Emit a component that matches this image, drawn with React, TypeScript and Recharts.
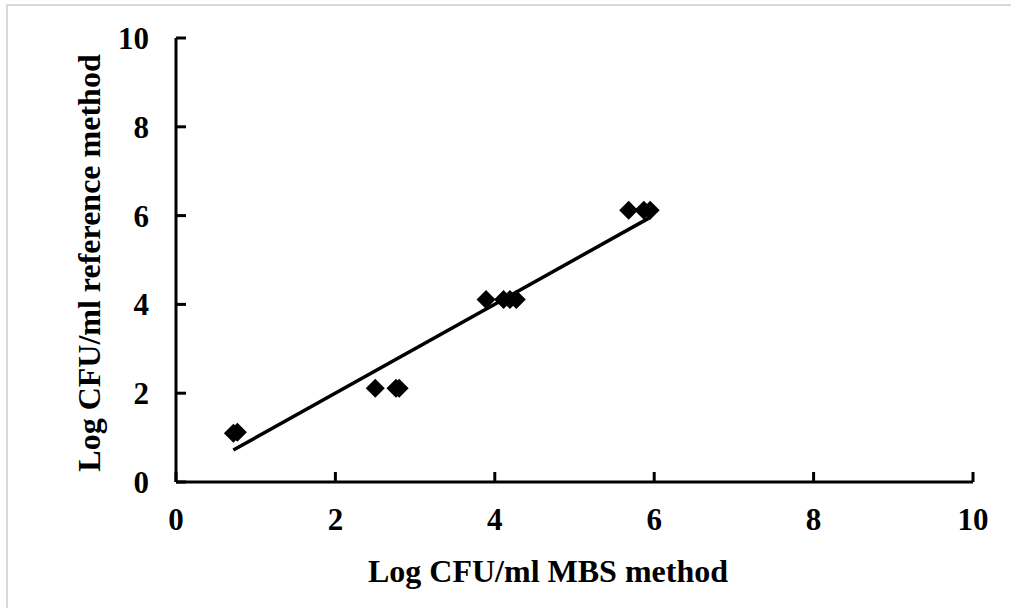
import React from "react";
import { ScatterChart, Scatter, XAxis, YAxis } from "recharts";

// MBS method (x) vs reference method (y), log CFU/ml
const mbsValues = [0.72, 0.77, 2.5, 2.76, 2.8, 3.89, 4.11, 4.19, 4.27, 5.68, 5.87, 5.95];
const refValues = [1.1, 1.12, 2.11, 2.11, 2.11, 4.11, 4.11, 4.11, 4.11, 6.12, 6.12, 6.12];
const trendX = [0.72, 5.95];
const trendY = [0.72, 5.96];
const tickValues = [0, 2, 4, 6, 8, 10];
const xTitle = "Log CFU/ml MBS method";
const yTitle = "Log CFU/ml reference method";

const points = mbsValues.map((x, i) => ({ x, y: refValues[i] }));
const trend = trendX.map((x, i) => ({ x, y: trendY[i] }));

const FONT = "'Liberation Serif', 'Times New Roman', serif";

const Diamond = (props: any) => {
  const { cx, cy } = props;
  const r = 9.5;
  return (
    <polygon
      points={`${cx},${cy - r} ${cx + r},${cy} ${cx},${cy + r} ${cx - r},${cy}`}
      fill="#000"
    />
  );
};

const NoShape = () => <g />;

export default function App() {
  const tickStyle = { fontFamily: FONT, fontWeight: "bold", fontSize: 31, fill: "#000" };
  return (
    <div style={{ position: "absolute", left: 0, top: 0, width: 1011, height: 608, background: "#fff" }}>
      <style>{"body{margin:0}"}</style>
      <div
        style={{
          position: "absolute",
          left: 6,
          top: 4,
          width: 1011 - 6,
          height: 608 - 4,
          borderTop: "2px solid #d9d9d9",
          borderLeft: "2px solid #d9d9d9",
          boxSizing: "border-box",
        }}
      />
      <div style={{ position: "absolute", left: 0, top: 0 }}>
        <ScatterChart
          width={1011}
          height={608}
          margin={{ top: 38, right: 38, left: 0, bottom: 66 }}
        >
          <XAxis
            type="number"
            dataKey="x"
            domain={[0, 10]}
            ticks={tickValues}
            interval={0}
            allowDataOverflow
            height={60}
            tickSize={-10}
            tickMargin={36}
            tick={tickStyle}
            axisLine={{ stroke: "#000", strokeWidth: 3 }}
            tickLine={{ stroke: "#000", strokeWidth: 3 }}
            label={{
              content: () => (
                <text
                  x={548}
                  y={582}
                  textAnchor="middle"
                  fontFamily={FONT}
                  fontWeight="bold"
                  fontSize={32}
                  fill="#000"
                >
                  {xTitle}
                </text>
              ),
            }}
          />
          <YAxis
            type="number"
            dataKey="y"
            domain={[0, 10]}
            ticks={tickValues}
            interval={0}
            allowDataOverflow
            width={176}
            tickSize={-10}
            tickMargin={37}
            tick={tickStyle}
            axisLine={{ stroke: "#000", strokeWidth: 3 }}
            tickLine={{ stroke: "#000", strokeWidth: 3 }}
            label={{
              content: () => (
                <text
                  x={100}
                  y={263}
                  transform="rotate(-90, 100, 263)"
                  textAnchor="middle"
                  fontFamily={FONT}
                  fontWeight="bold"
                  fontSize={32}
                  fill="#000"
                >
                  {yTitle}
                </text>
              ),
            }}
          />
          <Scatter
            data={trend}
            line={{ stroke: "#000", strokeWidth: 3.5 }}
            shape={NoShape}
            isAnimationActive={false}
          />
          <Scatter data={points} shape={Diamond} isAnimationActive={false} />
        </ScatterChart>
      </div>
    </div>
  );
}
